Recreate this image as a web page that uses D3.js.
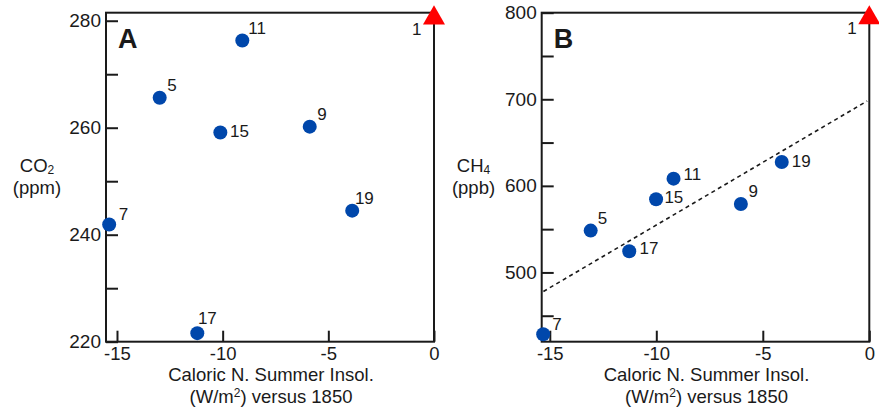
<!DOCTYPE html>
<html>
<head>
<meta charset="utf-8">
<script src="https://cdn.jsdelivr.net/npm/d3@7"></script>
<style>
  body { margin: 0; background: #fff; }
  svg { display: block; font-family: "Liberation Sans", Arial, sans-serif; }
</style>
</head>
<body>
<svg id="chart" width="879" height="410"></svg>
<script>
// glacial stages (marine isotope stage numbers)
const stages = ["5", "7", "9", "11", "15", "17", "19"];

// panel A: CO2 (ppm) vs caloric summer insolation anomaly
const insolA = [-12.98, -15.37, -5.88, -9.07, -10.11, -11.2, -3.87];
const co2 = [265.6, 241.9, 260.2, 276.3, 259.1, 221.6, 244.5];

// panel B: CH4 (ppb)
const insolB = [-13.08, -15.31, -6.03, -9.19, -10.01, -11.27, -4.11];
const ch4 = [548.3, 428.6, 579.1, 608.3, 584.5, 524.5, 627.6];

// stage 1 (pre-industrial 1850) reference values
const refLabel = "1";
const refInsol = 0;
const refCO2 = 280.5;
const refCH4 = 794;

// dashed fit line in panel B
const fitX = [-15.3, -0.1];
const fitY = [478, 698];

const xTicks = [-15, -10, -5, 0];
const co2Major = [220, 240, 260, 280];
const co2Minor = [230, 250, 270];
const ch4Major = [500, 600, 700, 800];
const ch4Minor = [450, 550, 650, 750];

// label offsets (dx, dy to baseline) for stage numbers
const labOffA = [[7.6, -7], [9.7, -4.7], [7.6, -6.7], [6, -6.3], [9.7, 4.3], [0.6, -9], [2.7, -6.7]];
const labOffB = [[7, -6.7], [9, -4.6], [7.6, -6.6], [10, 1.5], [8.3, 3.9], [10.3, 2.9], [10, 4.9]];

const svg = d3.select("#chart");
const ink = "#1a1a1a";
const blue = "#0047ab";
const font = "Liberation Sans, Arial, sans-serif";
const fs = 18.5;

function panel(opt) {
  const x = d3.scaleLinear().domain(opt.xDomain).range([opt.left, opt.right]);
  const y = d3.scaleLinear().domain(opt.yDomain).range([opt.bottom, opt.top]);
  const g = svg.append("g");

  // frame
  g.append("rect")
    .attr("x", opt.left).attr("y", opt.top)
    .attr("width", opt.right - opt.left).attr("height", opt.bottom - opt.top)
    .attr("fill", "none").attr("stroke", ink).attr("stroke-width", 2);

  // x axis, ticks pointing inward
  const xa = g.append("g")
    .attr("transform", `translate(0,${opt.bottom})`)
    .call(d3.axisBottom(x).tickValues(xTicks).tickSizeInner(-11).tickSizeOuter(0)
      .tickPadding(5).tickFormat(d => String(d)));
  xa.select(".domain").remove();
  xa.selectAll("line").attr("stroke", ink).attr("stroke-width", 2);
  xa.selectAll("text").attr("font-size", fs).attr("fill", ink).attr("font-family", font);

  // y axis major
  const ya = g.append("g")
    .attr("transform", `translate(${opt.left},0)`)
    .call(d3.axisLeft(y).tickValues(opt.yMajor).tickSizeInner(-12).tickSizeOuter(0)
      .tickPadding(5));
  ya.select(".domain").remove();
  ya.selectAll("line").attr("stroke", ink).attr("stroke-width", 2);
  ya.selectAll("text").attr("font-size", fs + 0.5).attr("fill", ink).attr("font-family", font);

  // y axis minor
  const ym = g.append("g")
    .attr("transform", `translate(${opt.left},0)`)
    .call(d3.axisLeft(y).tickValues(opt.yMinor).tickSizeInner(-12).tickSizeOuter(0)
      .tickFormat(""));
  ym.select(".domain").remove();
  ym.selectAll("line").attr("stroke", ink).attr("stroke-width", 2);

  // fit line
  if (opt.fit) {
    g.append("path")
      .datum(d3.zip(opt.fit[0], opt.fit[1]))
      .attr("d", d3.line().x(d => x(d[0])).y(d => y(d[1])))
      .attr("fill", "none").attr("stroke", ink)
      .attr("stroke-width", 1.6).attr("stroke-dasharray", "4,3.5");
  }

  // points
  const pts = stages.map((s, i) => ({ s, x: opt.xs[i], y: opt.ys[i], off: opt.off[i] }));
  g.selectAll(".pt").data(pts).enter().append("circle")
    .attr("cx", d => x(d.x)).attr("cy", d => y(d.y)).attr("r", 7)
    .attr("fill", blue);
  g.selectAll(".lab").data(pts).enter().append("text")
    .attr("x", d => x(d.x) + d.off[0]).attr("y", d => y(d.y) + d.off[1])
    .attr("font-size", 17).attr("fill", ink).text(d => d.s);

  // pre-industrial triangle
  g.append("path")
    .attr("d", d3.symbol().type(d3.symbolTriangle).size(210)())
    .attr("transform", `translate(${x(refInsol)},${y(opt.ref)})`)
    .attr("fill", "#ff0000");
  g.append("text")
    .attr("x", x(refInsol) - 22).attr("y", y(opt.ref) + 16.5)
    .attr("font-size", 17).attr("fill", ink).text(refLabel);

  // panel letter
  g.append("text")
    .attr("x", opt.left + 12).attr("y", 48)
    .attr("font-size", 27).attr("font-weight", "bold").attr("fill", ink)
    .text(opt.letter);

  // y title
  const yt = g.append("text").attr("x", opt.yTitleX).attr("y", 171.5)
    .attr("text-anchor", "middle").attr("font-size", fs).attr("fill", ink);
  yt.append("tspan").text(opt.gas);
  yt.append("tspan").attr("font-size", 12).attr("dy", 2).text(opt.sub);
  g.append("text").attr("x", opt.yTitleX).attr("y", 193.5)
    .attr("text-anchor", "middle").attr("font-size", fs).attr("fill", ink)
    .text(opt.unit);

  // x title
  const cx = (opt.left + opt.right) / 2 + 1;
  g.append("text").attr("x", cx).attr("y", 381)
    .attr("text-anchor", "middle").attr("font-size", fs).attr("fill", ink)
    .text("Caloric N. Summer Insol.");
  const xt2 = g.append("text").attr("x", cx).attr("y", 403)
    .attr("text-anchor", "middle").attr("font-size", fs).attr("fill", ink);
  xt2.append("tspan").text("(W/m");
  xt2.append("tspan").attr("font-size", 12).attr("dy", -6).text("2");
  xt2.append("tspan").attr("dy", 6).text(") versus 1850");
}

panel({
  left: 106, right: 434, top: 12.7, bottom: 341.7,
  xDomain: [-15.52, 0], yDomain: [220, 281.5],
  yMajor: co2Major, yMinor: co2Minor,
  xs: insolA, ys: co2, off: labOffA, ref: refCO2,
  letter: "A", gas: "CO", sub: "2", unit: "(ppm)", yTitleX: 37
});

panel({
  left: 541.7, right: 869.3, top: 12.7, bottom: 341.7,
  xDomain: [-15.38, 0], yDomain: [420, 800],
  yMajor: ch4Major, yMinor: ch4Minor,
  xs: insolB, ys: ch4, off: labOffB, ref: refCH4, fit: [fitX, fitY],
  letter: "B", gas: "CH", sub: "4", unit: "(ppb)", yTitleX: 473.5
});
</script>
</body>
</html>
